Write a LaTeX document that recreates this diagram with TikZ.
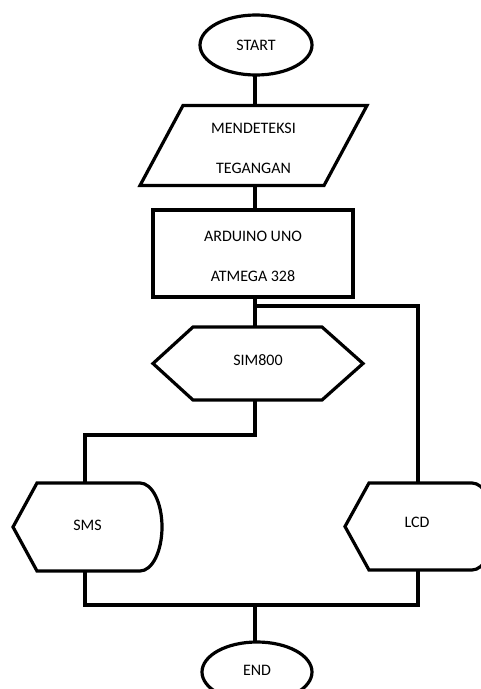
\documentclass[tikz,border=0pt]{standalone}
\usepackage{fontspec}
\setmainfont{Carlito}
\usetikzlibrary{shapes.geometric,calc}
\begin{document}
\begin{tikzpicture}[x=1pt,y=-1pt,line width=3.2pt,line join=miter,
  every node/.style={font=\fontsize{16}{40}\selectfont,inner sep=0pt,outer sep=0pt},
  term/.style={ellipse,draw,minimum width=112pt,minimum height=60pt},
  holder/.style={rectangle,align=center},
  outline/.style={draw,line width=3.2pt}]
\useasboundingbox (0,0) rectangle (481,689);
% nodes
\node[term] (start) at (256,45) {START};
\node[holder,minimum width=227pt,minimum height=75pt] (input) at (253.5,145.5)
  {\raisebox{-4.5pt}{\begin{tabular}{@{}c@{}}MENDETEKSI\\TEGANGAN\end{tabular}}};
\node[holder,draw,minimum width=200pt,minimum height=87pt] (proc) at (253,253.5)
  {\raisebox{-1pt}{\begin{tabular}{@{}c@{}}ARDUINO UNO\\ATMEGA 328\end{tabular}}};
\node[holder,minimum width=210pt,minimum height=73pt] (sim) at (258,363.5)
  {\raisebox{7.5pt}{SIM800}};
\node[holder,minimum width=149pt,minimum height=88pt] (sms) at (87.5,527)
  {\raisebox{4pt}{SMS}};
\node[holder,minimum width=149pt,minimum height=87pt] (lcd) at (419.5,526.5)
  {\hspace*{-5pt}\raisebox{8pt}{LCD}};
\node[term,minimum width=110pt] (end) at (257,672) {\raisebox{4pt}{END}};
% outlines
\draw[outline] ($(input.north west)+(43,0)$) -- (input.north east)
  -- ($(input.south east)+(-43,0)$) -- (input.south west) -- cycle;
\draw[outline] (sim.west) -- ($(sim.north west)+(40,0)$) -- ($(sim.north east)+(-41,0)$)
  -- (sim.east) -- ($(sim.south east)+(-41,0)$) -- ($(sim.south west)+(40,0)$) -- cycle;
\draw[outline] (sms.west) -- ($(sms.north west)+(24,0)$) -- ($(sms.north east)+(-22,0)$)
  .. controls ($(sms.north east)+(-9.85,0)$) and ($(sms.east)+(0,-24.3)$) .. (sms.east)
  .. controls ($(sms.east)+(0,24.3)$) and ($(sms.south east)+(-9.85,0)$) .. ($(sms.south east)+(-22,0)$)
  -- ($(sms.south west)+(24,0)$) -- cycle;
\draw[outline] (lcd.west) -- ($(lcd.north west)+(24,0)$) -- ($(lcd.north east)+(-22,0)$)
  .. controls ($(lcd.north east)+(-9.85,0)$) and ($(lcd.east)+(0,-24)$) .. (lcd.east)
  .. controls ($(lcd.east)+(0,24)$) and ($(lcd.south east)+(-9.85,0)$) .. ($(lcd.south east)+(-22,0)$)
  -- ($(lcd.south west)+(24,0)$) -- cycle;
% coordinates
\coordinate (axis) at (255,0);
\coordinate (rcol) at (418,306);
\coordinate (lcol) at (85,435);
\coordinate (bot) at (255,605);
% connectors
\draw (start.south -| axis) -- (input.north -| axis);
\draw (input.south -| axis) -- (proc.north -| axis);
\draw (proc.south -| axis) -- (sim.north -| axis);
\draw (axis |- rcol) -- (rcol) -- (rcol |- lcd.north);
\draw (sim.south -| axis) -- (axis |- lcol) -- (lcol) -- (lcol |- sms.north);
\draw (lcol |- sms.south) -- (lcol |- bot) -- (rcol |- bot) -- (rcol |- lcd.south);
\draw (bot) -- (bot |- end.north);
\end{tikzpicture}
\end{document}
